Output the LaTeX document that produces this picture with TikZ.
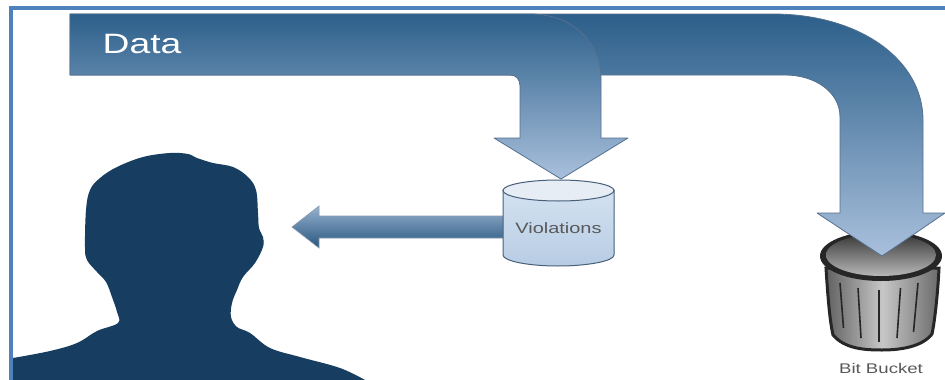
\documentclass[tikz,border=0pt]{standalone}
\usepackage{fontspec}
\setmainfont{Liberation Sans}
\definecolor{framec}{HTML}{4F81BD}
\definecolor{persc}{HTML}{173E60}
\definecolor{arrtop}{HTML}{2C5F8A}
\definecolor{arrbot}{HTML}{A9C0DC}
\definecolor{edgec}{HTML}{55708F}
\definecolor{cyltop}{HTML}{D3E2F1}
\definecolor{cylbot}{HTML}{B7CCE4}
\tikzset{
 blockarrow/.style={draw=edgec,line width=0.8pt,line join=round,top color=arrtop,bottom color=arrbot},
 bartext/.style={xscale=1.33,transform shape,inner sep=0pt,anchor=center},
 graytext/.style={bartext,text=black!65}
}
\begin{document}
\begin{tikzpicture}[x=1pt,y=-1pt]
\useasboundingbox (0,0) rectangle (945,380);
\fill[white] (0,0) rectangle (945,380);
% frame
\fill[framec] (9,5.5) rectangle (945,10);
\fill[framec] (8.5,5.5) rectangle (13,380);
% bucket
\path[draw=black!85,line width=3pt,left color=black!62,right color=black!58,middle color=black!22] (826,268) .. controls (828,300) and (830,322) .. (833,335) .. controls (845,349) and (865,350) .. (882,350) .. controls (900,350) and (922,347) .. (932,334) .. controls (935,320) and (938,290) .. (939,268) -- cycle;
\fill[black!85] (881,256) ellipse [x radius=61,y radius=25];
\path[top color=black!78,bottom color=black!28] (881,255) ellipse [x radius=55,y radius=21];
\foreach \a/\b/\c/\d in {840/283/843.5/328, 858/288/861/338, 879/290/879/342, 900.5/288/897/338, 918/283/913.5/332}
 \draw[black!85,line width=1.6pt] (\a,\b) -- (\c,\d);
% large arrow to bit bucket
\path[blockarrow] (70,14) -- (773,14) .. controls (860,14) and (923,60) .. (923,120) -- (923,213) -- (945,213) -- (882,256) -- (817,213) -- (840,213) -- (840,117) .. controls (840,92) and (815,75) .. (785,75) -- (70,75) -- cycle;
% smaller arrow to violations
\path[blockarrow] (70,14) -- (530,14) .. controls (575,14) and (601,45) .. (601,78) -- (601,138) -- (628,138) -- (561,179) -- (494,138) -- (520,138) -- (520,86) .. controls (520,79) and (516,75) .. (510,75) -- (70,75) -- cycle;
\node[bartext,text=white,font=\fontsize{28}{28}\selectfont] (data) at (142,44) {Data};
% arrow to person
\path[draw=edgec!70,line width=0.6pt,top color=arrbot!85!arrtop,bottom color=arrtop!90!black] (510,216) -- (319,216) -- (319,206) -- (292,227) -- (319,248) -- (319,238) -- (510,238) -- cycle;
% cylinder
\path[draw=edgec!85!black,line width=1pt,top color=cyltop,bottom color=cylbot] (503,190) -- (503,255) .. controls (503,261) and (528,266) .. (558,266) .. controls (588,266) and (614,261) .. (614,255) -- (614,190) -- cycle;
\path[draw=edgec!85!black,line width=1pt,fill=arrbot!28!white] (558.5,190.5) ellipse [x radius=55.5,y radius=10.5];
\node[graytext,font=\fontsize{15}{15}\selectfont] (viol) at (558.5,228) {Violations};
% person
\fill[persc] plot[smooth,tension=0.6] coordinates {(13,358) (50,351) (77,343) (97,331) (118,323) (117,312) (112,297) (106,282) (97,272) (87,260) (85,247) (86,210) (90,190) (100,178) (117,167) (143,157) (170,153) (188,154) (197,158) (213,163) (233,167) (248,177) (256,190) (258,213) (259,228) (263,237) (263,247) (255,263) (243,277) (237,290) (232,303) (231,317) (237,327) (250,333) (270,348) (300,357) (340,368) (365,380)} -- (13,380) -- cycle;
\node[graytext,font=\fontsize{14}{14}\selectfont] (bit) at (881,368) {Bit Bucket};
\end{tikzpicture}
\end{document}
